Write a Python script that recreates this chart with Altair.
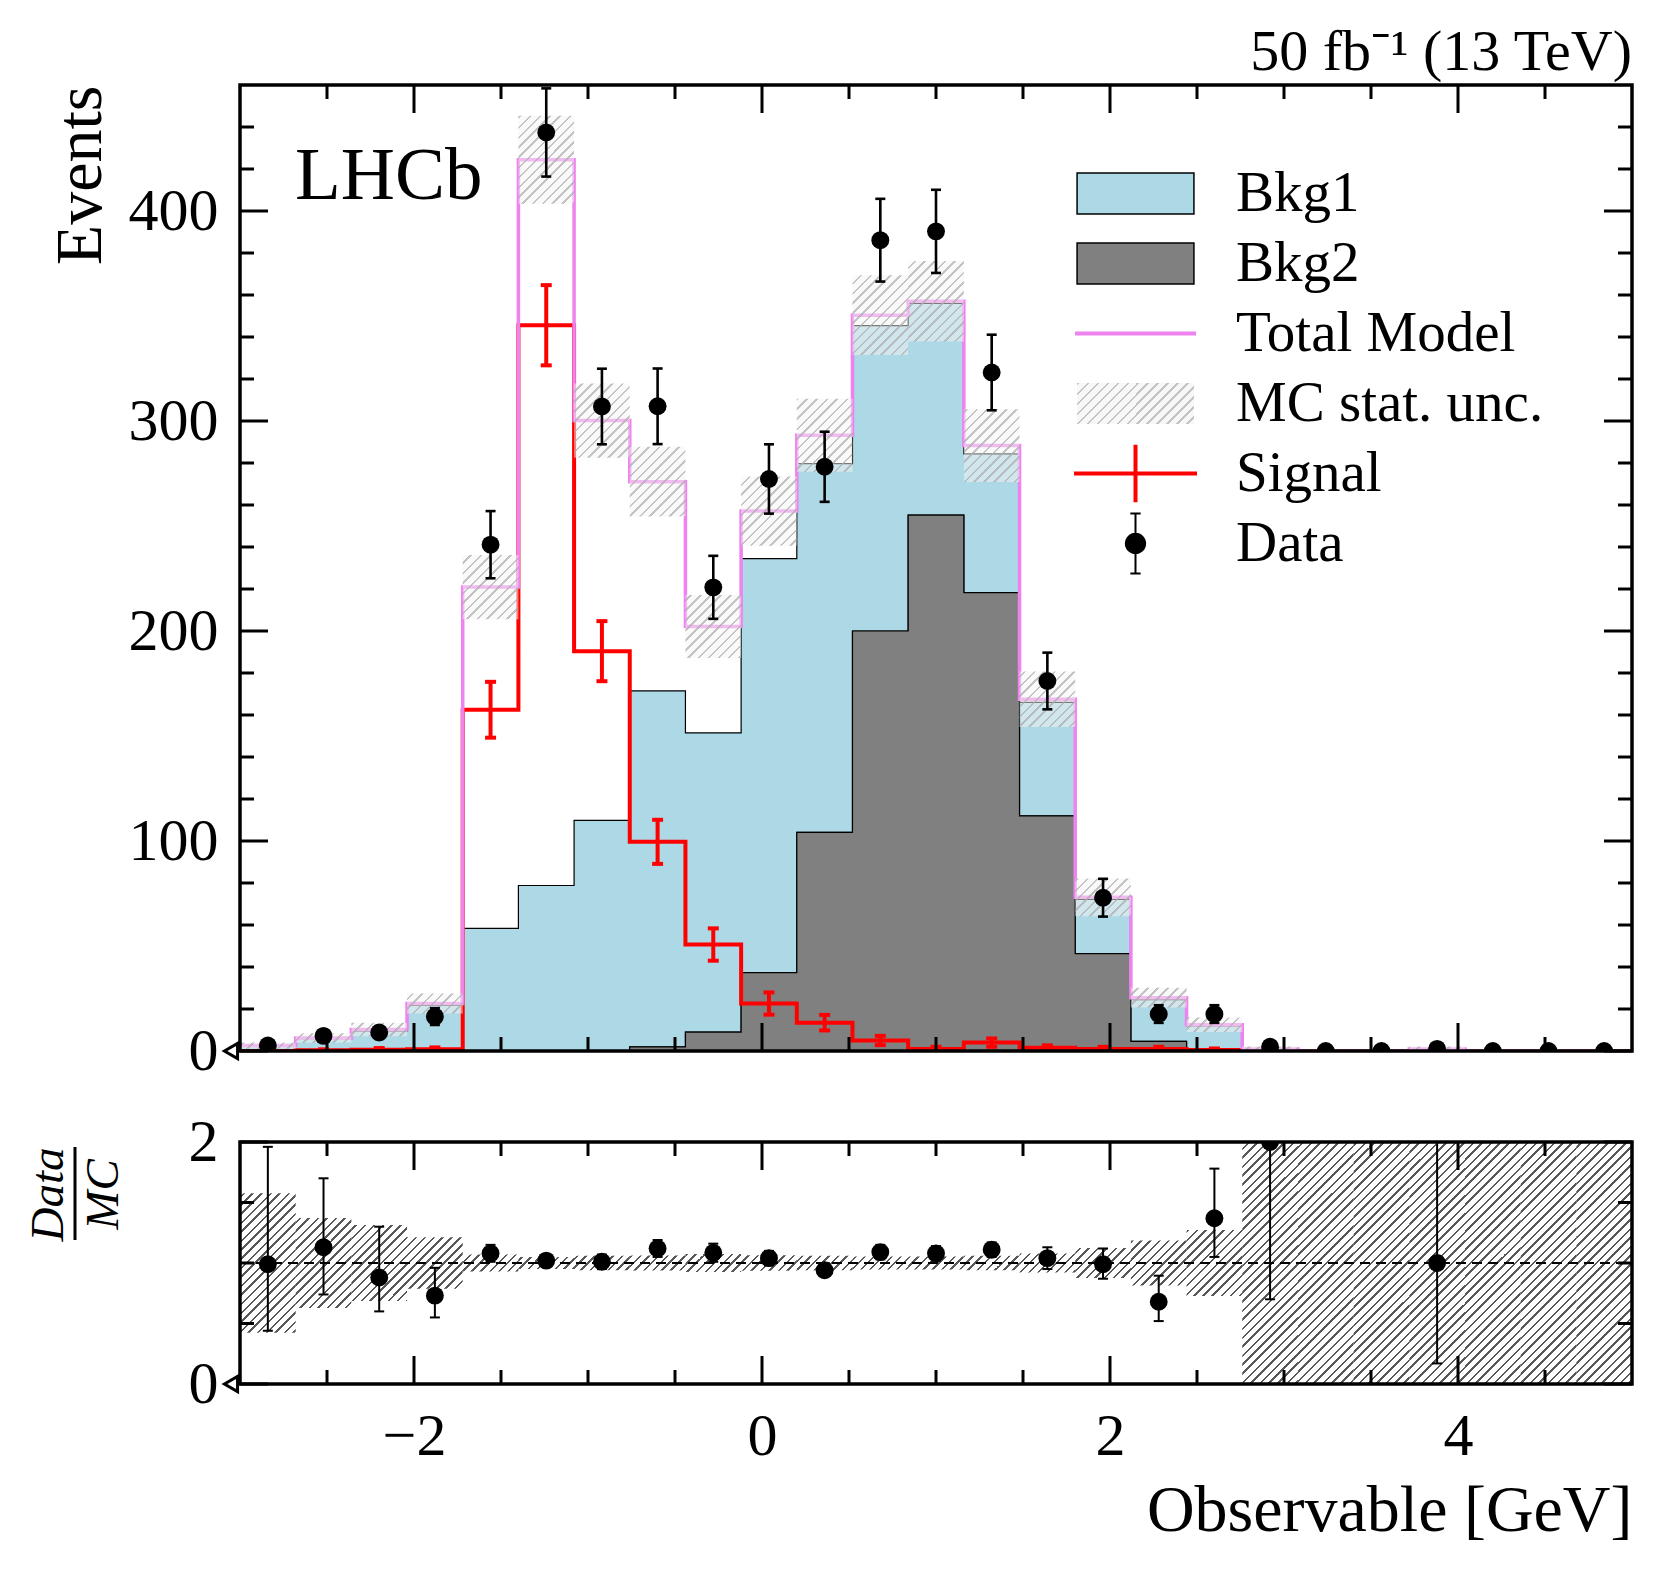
import json
import math

import altair as alt
import numpy as np
import pandas as pd

FONT = "Liberation Serif"

# 25 bins of 0.32 GeV between -3 and 5 GeV
bin_min, bin_max, n_bins = -3.0, 5.0, 25

bkg1 = [2.6, 5.9, 9.6, 21.8, 58.4, 78.8, 109.8, 169.5, 142.5, 197.2, 175.6, 145.4, 100.8,
        66.0, 54.0, 25.8, 19.8, 11.0, 1.0, 0.0, 0.0, 1.0, 0.0, 0.0, 0.0]
bkg2 = [0.0, 0.0, 0.0, 0.0, 0.0, 0.0, 0.0, 2.0, 9.0, 37.3, 104.1, 200.0, 255.2,
        218.3, 112.0, 46.4, 4.6, 1.0, 0.0, 0.0, 0.0, 0.0, 0.0, 0.0, 0.0]
signal = [0.0, 0.3, 0.6, 0.8, 162.5, 345.6, 190.4, 99.6, 50.7, 22.6, 13.5, 5.0, 1.0,
          4.0, 1.5, 1.0, 1.0, 0.5, 0.0, 0.0, 0.0, 0.0, 0.0, 0.0, 0.0]
signal_err = [0.0, 0.5, 0.8, 0.9, 13.3, 19.1, 14.3, 10.5, 7.7, 5.3, 3.7, 2.2, 1.0,
              2.0, 1.2, 1.0, 1.0, 0.7, 0.0, 0.0, 0.0, 0.0, 0.0, 0.0, 0.0]
mc_unc = [1.5, 2.3, 3.2, 4.8, 15.3, 21.0, 17.7, 16.6, 15.0, 16.5, 17.4, 19.0, 19.2,
          17.3, 13.2, 9.0, 4.7, 3.4, 1.2, 0.0, 0.0, 1.2, 0.0, 0.0, 0.0]
data = [2.6, 7.2, 8.8, 16.4, 241.1, 437.4, 306.9, 307.0, 220.8, 272.4, 278.2, 386.1, 390.3,
        323.1, 176.2, 73.0, 17.6, 17.6, 2.0, 0.0, 0.0, 1.0, 0.0, 0.0, 0.0]
data_err = [1.6, 2.7, 3.0, 4.0, 16.0, 21.0, 18.0, 18.0, 15.0, 16.5, 16.7, 19.7, 19.8,
            18.0, 13.5, 9.0, 4.2, 4.2, 1.4, 0.0, 0.0, 1.0, 0.0, 0.0, 0.0]

# data / MC (None = not drawn)
ratio = [0.99, 1.13, 0.88, 0.73, 1.08, 1.02, 1.01, 1.12, 1.085, 1.04, 0.94, 1.09, 1.08,
         1.11, 1.04, 0.99, 0.68, 1.37, 2.0, None, None, 1.0, None, None, None]
ratio_lo = [0.44, 0.74, 0.60, 0.55, 1.01, 0.97, 0.95, 1.05, 1.01, 0.98, 0.89, 1.03, 1.02,
            1.05, 0.95, 0.87, 0.52, 1.05, 0.70, None, None, 0.17, None, None, None]
ratio_hi = [1.96, 1.70, 1.30, 0.96, 1.15, 1.07, 1.07, 1.19, 1.16, 1.10, 1.00, 1.15, 1.14,
            1.17, 1.13, 1.12, 0.895, 1.78, 3.0, None, None, 3.3, None, None, None]

x_major = [-2, 0, 2, 4]
x_minor = [-2.5, -1.5, -1.0, -0.5, 0.5, 1.0, 1.5, 2.5, 3.0, 3.5, 4.5]
y_major = [0, 100, 200, 300, 400]
y_minor = [20 * i for i in range(1, 23) if (20 * i) % 100]
r_major = [0, 2]
r_minor = [0.5, 1.0, 1.5]

legend_names = ["Bkg1", "Bkg2", "Total Model", "MC stat. unc.", "Signal", "Data"]

W, H1, H2 = 1392, 966, 242
YMAX = 460

xs = alt.Scale(domain=[bin_min, bin_max], nice=False, zero=False)
ys = alt.Scale(domain=[0, YMAX], nice=False, zero=False)
yr = alt.Scale(domain=[0, 2], nice=False, zero=False)

edges = np.round(np.linspace(bin_min, bin_max, n_bins + 1), 2)
lo, hi = edges[:-1], edges[1:]
ctr = np.round((lo + hi) / 2, 2)
stack = np.array(bkg1) + np.array(bkg2)
total = stack + np.array(signal)

HATCH_LIGHT = ("rgba(185,185,185,0.85)", "rgba(244,244,244,0.5)")
HATCH_DARK = ("rgba(70,70,70,0.9)", "rgba(255,255,255,0)")


def enc_x(field, main):
    # the upper panel has no x axis at all, the lower one gets it from its first layer
    return alt.X(field, scale=xs, axis=None) if main else alt.X(field, scale=xs)


def stripes(x0, y0, w, h, period, lw, line, bg):
    # diagonal hatch as a sharp-stop linear gradient in the rect's bounding box
    span = w + h
    start = x0 + y0
    t = math.floor(start / period) * period - start
    stops = [{"offset": 0, "color": bg}]
    while t < span:
        a, b = max(t, 0.0), min(t + lw, span)
        if b > a:
            a, b = round(a / span, 5), round(b / span, 5)
            stops += [{"offset": a, "color": bg}, {"offset": a, "color": line},
                      {"offset": b, "color": line}, {"offset": b, "color": bg}]
        t += period
    stops.append({"offset": 1, "color": bg})
    d = w * w + h * h
    return {"gradient": "linear", "x1": 0, "y1": 0,
            "x2": round(span * w / d, 6), "y2": round(span * h / d, 6), "stops": stops}


def px(v):
    return (v - bin_min) / (bin_max - bin_min) * W


def hatch_rows(y_lo, y_hi, H, top, period, lw, colors):
    rows = []
    for i in range(n_bins):
        if y_hi[i] <= y_lo[i]:
            continue
        X0, X1 = px(lo[i]), px(hi[i])
        Y0, Y1 = H * (1 - y_hi[i] / top), H * (1 - y_lo[i] / top)
        rows.append({"lo": float(lo[i]), "hi": float(hi[i]),
                     "y": float(y_lo[i]), "y2": float(y_hi[i]),
                     "grad": stripes(X0, Y0, X1 - X0, Y1 - Y0, period, lw, *colors)})
    return rows


def errorbars(x, y_lo, y_hi, ysc, main, color, width, cap):
    df = pd.DataFrame({"x": x, "lo": y_lo, "hi": y_hi})
    bars = alt.Chart(df).mark_rule(color=color, strokeWidth=width, clip=True).encode(
        x=enc_x("x:Q", main), y=alt.Y("lo:Q", scale=ysc), y2="hi:Q")
    ends = pd.concat([df[["x", "lo"]].rename(columns={"lo": "y"}),
                      df[["x", "hi"]].rename(columns={"hi": "y"})])
    caps = alt.Chart(ends).mark_rule(color=color, strokeWidth=width, xOffset=-cap,
                                     x2Offset=cap, clip=True).encode(
        x=enc_x("x:Q", main), x2="x:Q", y=alt.Y("y:Q", scale=ysc))
    return [bars, caps]


def frame_and_ticks(H, ymaj, ymin, ysc, main):
    out = []
    for vals, ln in ((x_major, 28), (x_minor, 14)):
        base = alt.Chart(pd.DataFrame({"p": vals})).mark_rule(color="black", strokeWidth=3)
        out.append(base.encode(x=enc_x("p:Q", main), y=alt.value(H), y2=alt.value(H - ln)))
        out.append(base.encode(x=enc_x("p:Q", main), y=alt.value(0), y2=alt.value(ln)))
    for vals, ln in ((ymaj, 28), (ymin, 14)):
        base = alt.Chart(pd.DataFrame({"p": vals})).mark_rule(color="black", strokeWidth=3)
        ye = alt.Y("p:Q", scale=ysc)
        out.append(base.encode(y=ye, x=alt.value(0), x2=alt.value(ln)))
        out.append(base.encode(y=ye, x=alt.value(W), x2=alt.value(W - ln)))
    out.append(alt.Chart(pd.DataFrame({"a": [0]})).mark_rect(
        filled=False, stroke="black", strokeWidth=3.5).encode(
        x=alt.value(0), x2=alt.value(W), y=alt.value(0), y2=alt.value(H)))
    origin = alt.Chart(pd.DataFrame({"x": [bin_min], "y": [0]})).mark_point(
        shape="triangle-left", filled=False, stroke="black", strokeWidth=3, size=230,
        xOffset=-9, opacity=1).encode(x=enc_x("x:Q", main), y=alt.Y("y:Q", scale=ysc))
    out.append(origin)
    return out


# ---------------- main panel ----------------
steps = pd.DataFrame({
    "x": edges,
    "bkg2": np.append(bkg2, bkg2[-1]),
    "stack": np.append(stack, stack[-1]),
    "signal": np.append(signal, signal[-1]),
    "total": np.append(total, total[-1]),
})

y_axis = alt.Axis(values=y_major, format="d", title="Events", titleX=-140, titleY=0,
                  titleAlign="right", titleAngle=-90, titleBaseline="alphabetic",
                  titleFontSize=66, labelPadding=22, labelFontSize=60)

bkg1_area = alt.Chart(steps).mark_area(
    interpolate="step-after", fill="#ADD8E6", stroke="black", strokeWidth=1.2, clip=True
).encode(x=enc_x("x:Q", True), y=alt.Y("stack:Q", scale=ys, axis=y_axis), y2="bkg2:Q")
bkg2_area = alt.Chart(steps).mark_area(
    interpolate="step-after", fill="#808080", stroke="black", strokeWidth=1.2, clip=True
).encode(x=enc_x("x:Q", True), y=alt.Y("bkg2:Q", scale=ys))
sig_line = alt.Chart(steps).mark_line(
    interpolate="step-after", color="red", strokeWidth=4, clip=True
).encode(x=enc_x("x:Q", True), y=alt.Y("signal:Q", scale=ys))
tot_line = alt.Chart(steps).mark_line(
    interpolate="step-after", color="#EE82EE", strokeWidth=3.5, clip=True
).encode(x=enc_x("x:Q", True), y=alt.Y("total:Q", scale=ys))

sig_mask = np.array(signal_err) > 0
sig_bars = errorbars(ctr[sig_mask], (np.array(signal) - np.array(signal_err))[sig_mask],
                     (np.array(signal) + np.array(signal_err))[sig_mask], ys, True, "red", 4, 5.5)

main_hatch = hatch_rows(np.maximum(total - np.array(mc_unc), 0), total + np.array(mc_unc),
                        H1, YMAX, 10, 2.3, HATCH_LIGHT)
hatch_main = alt.Chart(alt.Data(values=main_hatch)).mark_rect(clip=True).encode(
    x=enc_x("lo:Q", True), x2="hi:Q",
    y=alt.Y("y:Q", scale=ys), y2="y2:Q",
    fill=alt.Fill("grad:N", scale=None))

dat_mask = np.array(data_err) > 0
dat_bars = errorbars(ctr[dat_mask], (np.array(data) - np.array(data_err))[dat_mask],
                     (np.array(data) + np.array(data_err))[dat_mask], ys, True, "black", 2.6, 5)
dat_pts = alt.Chart(pd.DataFrame({"x": ctr, "y": data})).mark_point(
    filled=True, shape="circle", size=320, color="black", opacity=1, clip=True
).encode(x=enc_x("x:Q", True), y=alt.Y("y:Q", scale=ys))

lhcb = alt.Chart(pd.DataFrame({"t": ["LHCb"]})).mark_text(
    align="left", baseline="alphabetic", font=FONT, fontSize=75, color="black"
).encode(x=alt.value(55), y=alt.value(114), text="t:N")

# legend
leg_hatch = stripes(0, 0, 117, 41, 10, 2.3, HATCH_LIGHT[0], "rgba(244,244,244,0.7)")
leg_shapes = [
    "M-2.85,-1H2.85V1H-2.85Z",
    "M-2.85,-1H2.85V1H-2.85Z",
    "M-2.95,0H2.95",
    "M-2.85,-1H2.85V1H-2.85Z",
    "M-3,0H3M0,-1.4V1.4",
    "M0,-1.46V1.46M-0.25,-1.46H0.25M-0.25,1.46H0.25"
    "M0.47,0A0.47,0.47,0,1,1,-0.47,0A0.47,0.47,0,1,1,0.47,0Z",
]
leg_fills = ["#ADD8E6", "#808080", "transparent", {"expr": json.dumps(leg_hatch)},
             "transparent", "black"]
leg_strokes = ["black", "black", "#EE82EE", "transparent", "red", "black"]
leg_widths = [1.5, 1.5, 4, 0, 4, 2]
leg = alt.Legend(title=None, orient="none", legendX=867, legendY=80, padding=0,
                 labelFont=FONT, labelFontSize=57, labelColor="black", labelOffset=72,
                 labelLimit=1000, symbolSize=1681, rowPadding=-5, gridAlign="all",
                 symbolOpacity=1)
legend_layer = alt.Chart(pd.DataFrame({"series": legend_names})).mark_point(
    filled=True, opacity=0
).encode(
    shape=alt.Shape("series:N", scale=alt.Scale(domain=legend_names, range=leg_shapes), legend=leg),
    fill=alt.Fill("series:N", scale=alt.Scale(domain=legend_names, range=leg_fills), legend=leg),
    stroke=alt.Stroke("series:N", scale=alt.Scale(domain=legend_names, range=leg_strokes), legend=leg),
    strokeWidth=alt.StrokeWidth("series:N", scale=alt.Scale(type="ordinal", domain=legend_names,
                                                            range=leg_widths), legend=leg),
)

main = alt.layer(
    bkg1_area, bkg2_area, sig_line, *sig_bars, tot_line, hatch_main, *dat_bars, dat_pts,
    lhcb, *frame_and_ticks(H1, y_major, y_minor, ys, True), legend_layer
).properties(
    width=W, height=H1,
    title=alt.TitleParams("50 fb⁻¹ (13 TeV)", anchor="end", frame="group", fontSize=58,
                          font=FONT, fontWeight="normal", color="black", offset=-45,
                          baseline="alphabetic"),
)

# ---------------- ratio panel ----------------
unc_rel = np.where(total > 0, np.array(mc_unc) / np.where(total > 0, total, 1), 99.0)
ratio_hatch = hatch_rows(np.maximum(1 - unc_rel, 0), np.minimum(1 + unc_rel, 2),
                         H2, 2, 9, 2.2, HATCH_DARK)

rx_axis = alt.Axis(values=x_major, format="d", title="Observable [GeV]", titleX=W, titleY=146,
                   titleAlign="right", titleBaseline="alphabetic", titleFontSize=66,
                   labelPadding=23, labelFontSize=60, labelFlush=False, labelOverlap=False)
ry_axis = alt.Axis(values=r_major, format="d", title=["Data", "MC"], titleX=-178, titleY=52,
                   titleAlign="center", titleAngle=-90, titleBaseline="alphabetic",
                   titleFontStyle="italic", titleFontSize=47, titleLineHeight=55,
                   labelPadding=22, labelFontSize=60)

hatch_ratio = alt.Chart(alt.Data(values=ratio_hatch)).mark_rect(clip=True).encode(
    x=alt.X("lo:Q", scale=xs, axis=rx_axis), x2="hi:Q",
    y=alt.Y("y:Q", scale=yr, axis=ry_axis), y2="y2:Q",
    fill=alt.Fill("grad:N", scale=None))

one_line = alt.Chart(pd.DataFrame({"v": [1.0]})).mark_rule(
    color="black", strokeWidth=2, strokeDash=[10, 6]
).encode(y=alt.Y("v:Q", scale=yr), x=alt.value(0), x2=alt.value(W))

r_ok = [i for i in range(n_bins) if ratio[i] is not None]
r_bars = errorbars(ctr[r_ok], [ratio_lo[i] for i in r_ok], [ratio_hi[i] for i in r_ok],
                   yr, False, "black", 2, 5)
r_pts = alt.Chart(pd.DataFrame({"x": ctr[r_ok], "y": [ratio[i] for i in r_ok]})).mark_point(
    filled=True, shape="circle", size=320, color="black", opacity=1, clip=True
).encode(x=enc_x("x:Q", False), y=alt.Y("y:Q", scale=yr))

frac_bar = alt.Chart(pd.DataFrame({"a": [0]})).mark_rule(color="black", strokeWidth=3).encode(
    x=alt.value(-165), y=alt.value(5), y2=alt.value(98))

lower = alt.layer(
    hatch_ratio, one_line, *r_bars, r_pts, *frame_and_ticks(H2, r_major, r_minor, yr, False),
    frac_bar
).properties(width=W, height=H2)

chart = alt.vconcat(main, lower, spacing=91, bounds="flush").properties(
    padding={"left": 15, "top": 15, "right": 5, "bottom": 5}, background="white"
).configure_view(stroke="transparent").configure_axis(
    grid=False, domain=False, ticks=False, labelFont=FONT, titleFont=FONT,
    labelColor="black", titleColor="black", titleFontWeight="normal"
)

chart.save("out.html", embed_options={"renderer": "svg", "actions": False})
